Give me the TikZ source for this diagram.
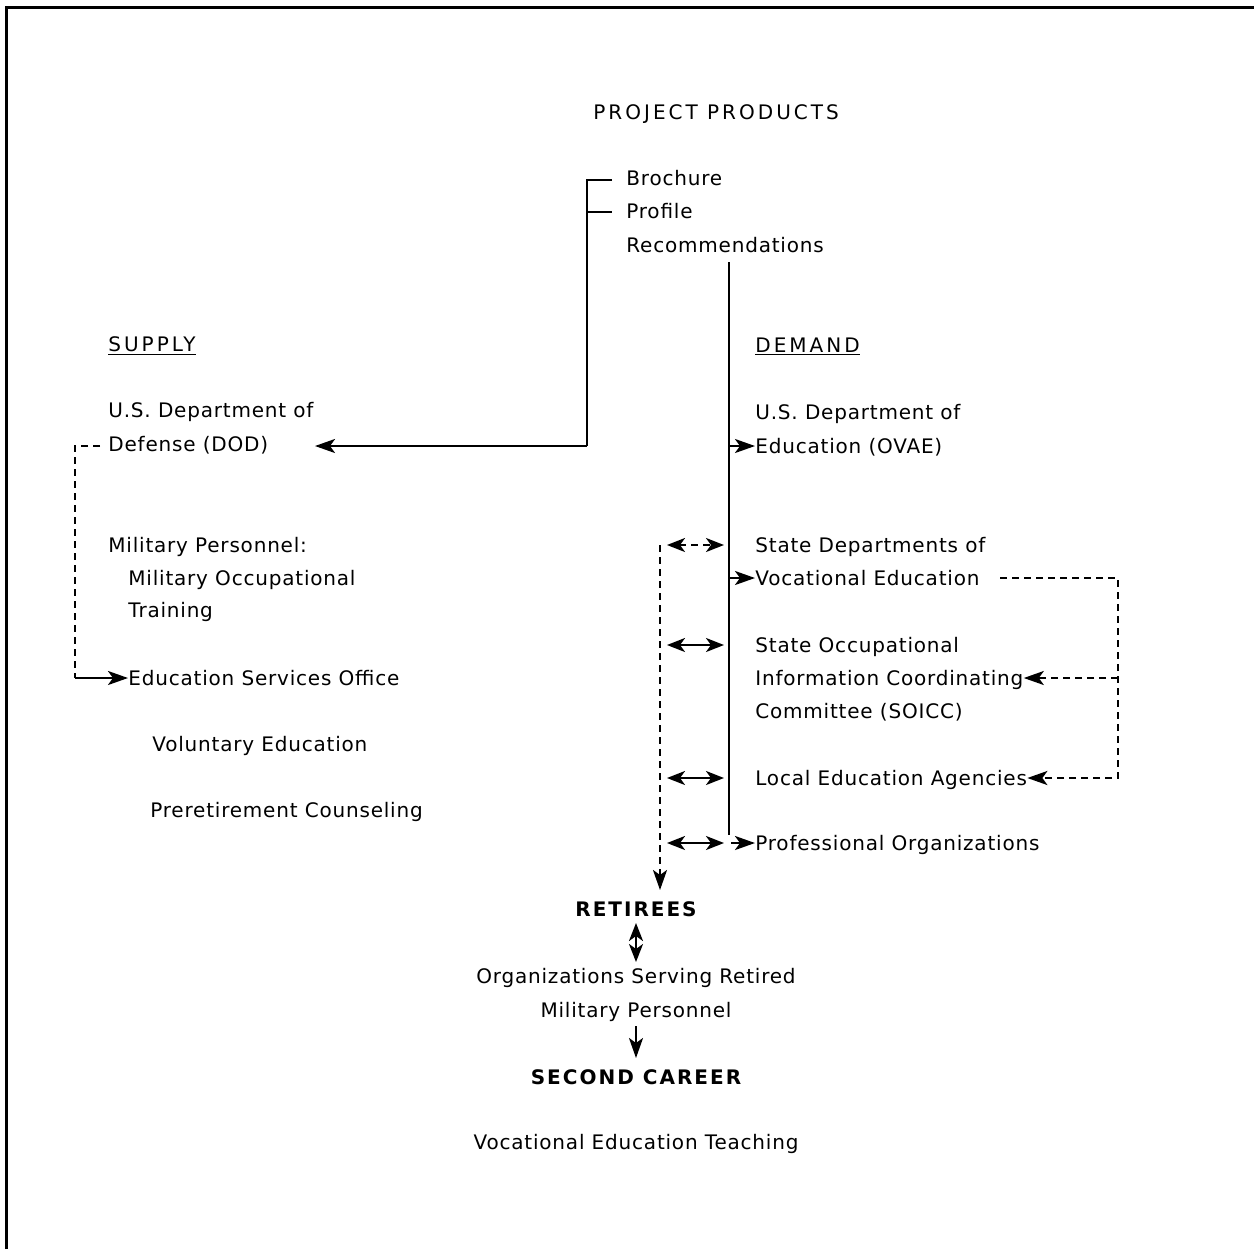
\documentclass[tikz,border=0pt]{standalone}
\usepackage{fontspec}
\setmainfont{DejaVu Sans}[LetterSpace=4]
\usetikzlibrary{arrows.meta}
\begin{document}
\begin{tikzpicture}[x=0.5pt,y=-0.5pt,
  lbl/.style={anchor=base west,inner sep=0pt,font=\fontsize{10pt}{12pt}\selectfont},
  capslbl/.style={anchor=base west,inner sep=0pt,font=\fontsize{10pt}{12pt}\selectfont\addfontfeature{LetterSpace=15}},
  ctr/.style={anchor=base,inner sep=0pt,font=\fontsize{10pt}{12pt}\selectfont},
  big/.style={anchor=base,inner sep=0pt,font=\fontsize{10pt}{12pt}\selectfont\bfseries\addfontfeature{LetterSpace=10}},
  ln/.style={line width=1.2pt},
  dsh/.style={line width=1.2pt,dash pattern=on 3.5pt off 2.5pt},
  tip/.style={-{Stealth[length=10pt,width=7pt,inset=2.5pt]}},
  tips/.style={{Stealth[length=9pt,width=7pt,inset=2.5pt]}-{Stealth[length=9pt,width=7pt,inset=2.5pt]}}
  ]
\useasboundingbox (0,0) rectangle (1254,1249);
\draw[line width=1.5pt] (6,1249) -- (6,7) -- (1254,7);

% texts
\node[capslbl] (title) at (593,119) {PROJECT PRODUCTS};
\node[lbl] (broch) at (626,185) {Brochure};
\node[lbl] (prof) at (626,218) {Profile};
\node[lbl] (rec) at (626,252) {Recommendations};

\node[capslbl] (supply) at (108,351) {\underline{SUPPLY}};
\node[lbl] (dod1) at (108,417) {U.S. Department of};
\node[lbl] (dod2) at (108,451) {Defense (DOD)};
\node[lbl] (mil1) at (108,552) {Military Personnel:};
\node[lbl] (mil2) at (128,585) {Military Occupational};
\node[lbl] (mil3) at (128,617) {Training};
\node[lbl] (eso) at (128,685) {Education Services Office};
\node[lbl] (vol) at (152,751) {Voluntary Education};
\node[lbl] (pre) at (150,817) {Preretirement Counseling};

\node[capslbl] (demand) at (755,352) {\underline{DEMAND}};
\node[lbl] (ed1) at (755,419) {U.S. Department of};
\node[lbl] (ed2) at (755,453) {Education (OVAE)};
\node[lbl] (sd1) at (755,552) {State Departments of};
\node[lbl] (sd2) at (755,585) {Vocational Education};
\node[lbl] (so1) at (755,652) {State Occupational};
\node[lbl] (so2) at (755,685) {Information Coordinating};
\node[lbl] (so3) at (755,718) {Committee (SOICC)};
\node[lbl] (lea) at (755,785) {Local Education Agencies};
\node[lbl] (porg) at (755,850) {Professional Organizations};

\node[big] (ret) at (636,916) {RETIREES};
\node[ctr] (osr1) at (636,983) {Organizations Serving Retired};
\node[ctr] (osr2) at (636,1017) {Military Personnel};
\node[big] (sec) at (636,1084) {SECOND CAREER};
\node[ctr] (vet) at (636,1149) {Vocational Education Teaching};

% coordinates
\coordinate (b1) at (612,180);
\coordinate (bc) at (587,180);
\coordinate (b2) at (612,212);
\coordinate (bp) at (587,212);
\coordinate (bb) at (587,446);
\coordinate (dodin) at (315,446);
\coordinate (vtop) at (729,262);
\coordinate (vbot) at (729,835);
\coordinate (dtop) at (660,545);
\coordinate (dbot) at (660,890);

% products bracket and arrow to DOD
\draw[ln] (b1) -- (bc) -- (bb);
\draw[ln] (bp) -- (b2);
\draw[ln,tip] (bb) -- (dodin);

% main vertical and branches
\draw[ln] (vtop) -- (vbot);
\draw[ln,tip] (729,446) -- (ed2.west |- 0,446);
\draw[ln,tip] (729,578) -- (sd2.west |- 0,578);
\draw[ln,tip] (731,843) -- (porg.west |- 0,843);

% dashed vertical to retirees
\draw[dsh,tip] (dtop) -- (dbot);
\draw[dsh,tips] (667,545) -- (724,545);
\draw[ln,tips] (667,645) -- (724,645);
\draw[ln,tips] (667,778) -- (724,778);
\draw[ln,tips] (667,843) -- (724,843);

% retirees chain
\draw[ln,tips] (636,923) -- (636,962);
\draw[ln,tip] (636,1026) -- (636,1058);

% left dashed loop
\coordinate (l1) at (100,446);
\coordinate (l2) at (75,446);
\coordinate (l3) at (75,678);
\draw[dsh] (l1) -- (l2) -- (l3);
\draw[ln,tip] (l3) -- (eso.west |- 0,678);

% right dashed loop
\coordinate (r1) at (1000,578);
\coordinate (r2) at (1118,578);
\coordinate (r3) at (1118,778);
\coordinate (r4) at (1118,678);
\draw[dsh,tip] (r1) -- (r2) -- (r3) -- (lea.east |- 0,778);
\draw[dsh,tip] (r4) -- (so2.east |- 0,678);
\end{tikzpicture}
\end{document}
